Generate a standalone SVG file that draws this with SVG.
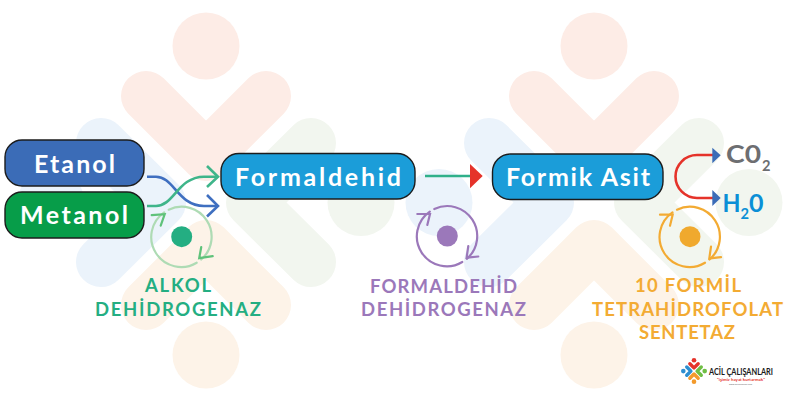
<svg xmlns="http://www.w3.org/2000/svg" width="800" height="400" viewBox="0 0 800 400">
<style>
text{font-family:"Lato","Liberation Sans",sans-serif;font-weight:700}
.box{stroke:#1c1c1c;stroke-width:1.4}
.nt{fill:#fff;font-size:25px}
.lb{font-size:18.500px}
.cy{fill:none;stroke-width:2.2;stroke-linecap:round;stroke-linejoin:miter}
.cn{fill:none;stroke-width:2.6;stroke-linejoin:miter}
.wt{fill:#fdece6;stroke:#fdece6}.wb{fill:#ebf3fb;stroke:#ebf3fb}.wg{fill:#f2f6ef;stroke:#f2f6ef}.wo{fill:#fdf3e8;stroke:#fdf3e8}
.lt{fill:#e5332a;stroke:#e5332a}.lbl{fill:#2f8fd0;stroke:#2f8fd0}.lg{fill:#6fbe44;stroke:#6fbe44}.lo{fill:#f39a2b;stroke:#f39a2b}
</style>
<defs>
<g id="pt"><circle cy="-155" r="33.500" stroke="none"/><path d="M-60-105 0-45 60-105" fill="none" stroke-width="50" stroke-linecap="round" stroke-linejoin="round"/></g>
<g id="pb"><circle cy="154" r="33.500" stroke="none"/><path d="M-60 104 0 44 60 104" fill="none" stroke-width="50" stroke-linecap="round" stroke-linejoin="round"/></g>
<g id="pl"><circle cx="-155" cy="1.500" r="33.500" stroke="none"/><path d="M-105-58-45 1.500-105 61" fill="none" stroke-width="50" stroke-linecap="round" stroke-linejoin="round"/></g>
<g id="pr"><circle cx="155" cy="1.500" r="33.500" stroke="none"/><path d="M105-58 45 1.500 105 61" fill="none" stroke-width="50" stroke-linecap="round" stroke-linejoin="round"/></g>
<g id="ring" fill="none"><path d="M-13-27A30 30 0 0 1 19.500 22.800"/><path d="M15 26A30 30 0 0 1-17.500-24.400"/></g>
</defs>

<g id="watermark-left" transform="translate(206 201)">
<use href="#pt" class="wt"/><use href="#pl" class="wb"/><use href="#pr" class="wg"/><use href="#pb" class="wo"/>
</g>
<g id="watermark-right" transform="translate(594 201)">
<use href="#pt" class="wt"/><use href="#pl" class="wb"/><use href="#pr" class="wg"/><use href="#pb" class="wo"/>
</g>

<g id="connectors">
<path class="cn" stroke="#3f6fc0" d="M147 176.700H156C174 176.700 178 206 204 206H217"/>
<path class="cn" stroke="#3f6fc0" d="M207 195 218 206 207 216.500"/>
<path class="cn" stroke="#3fb58a" d="M147 206H156C174 206 178 176.700 204 176.700H217"/>
<path class="cn" stroke="#3fb58a" d="M207 166 218 176.700 207 187"/>
<path class="cn" stroke="#2fb08a" d="M425 176H471"/>
<polygon fill="#e5332a" points="470,164 482.700,176 470,188.300"/>
<path class="cn" stroke="#e5332a" d="M713 155H697a21.500 21.500 0 0 0 0 43H713"/>
<polygon fill="#3b6cb7" points="712.300,147.700 720.700,155.300 712.300,163.300"/>
<polygon fill="#3b6cb7" points="712.300,190 720.700,198 712.300,206"/>
</g>

<g id="etanol">
<rect class="box" x="5" y="140" width="139" height="46" rx="17" fill="#3b6cb7"/>
<text class="nt" x="34" y="173" textLength="81" lengthAdjust="spacing">Etanol</text>
</g>
<g id="metanol">
<rect class="box" x="5" y="192" width="139" height="46" rx="17" fill="#079d49"/>
<text class="nt" x="20" y="224" textLength="108" lengthAdjust="spacing">Metanol</text>
</g>
<g id="formaldehid">
<rect class="box" x="221" y="153.500" width="194" height="45.500" rx="18" fill="#1b9dd9"/>
<text class="nt" x="235" y="186" textLength="166" lengthAdjust="spacing">Formaldehid</text>
</g>
<g id="formik-asit">
<rect class="box" x="492.500" y="154" width="170.500" height="45.500" rx="18" fill="#1b9dd9"/>
<text class="nt" x="506" y="186" textLength="144" lengthAdjust="spacing">Formik Asit</text>
</g>

<g id="co2" fill="#6d6e71">
<text x="726" y="163" font-size="25" textLength="35" lengthAdjust="spacingAndGlyphs">C0</text>
<text x="762" y="171" font-size="15" textLength="8.500" lengthAdjust="spacingAndGlyphs">2</text>
</g>
<g id="h2o" fill="#0b8fd6">
<text x="722.500" y="212" font-size="25" textLength="18" lengthAdjust="spacingAndGlyphs">H</text>
<text x="740.500" y="219" font-size="15" textLength="8.500" lengthAdjust="spacingAndGlyphs">2</text>
<text x="749" y="212" font-size="25" textLength="14.500" lengthAdjust="spacingAndGlyphs">0</text>
</g>

<g id="alkol-dehidrogenaz">
<g transform="translate(181.700 236.700)">
<use href="#ring" class="cy" stroke="#aedbb4"/>
<path class="cy" stroke="#5fc27a" d="M-30-21.500-17-22.500-21-11"/>
<path class="cy" stroke="#5fc27a" d="M31 19.500 17.500 21.500 19.500 10.500"/>
<circle r="10.500" fill="#24ae82"/>
</g>
<text class="lb" x="145" y="292" fill="#24ae82" textLength="66" lengthAdjust="spacing">ALKOL</text>
<text class="lb" x="95" y="316" fill="#24ae82" textLength="166" lengthAdjust="spacing">DEHİDROGENAZ</text>
</g>
<g id="formaldehid-dehidrogenaz">
<g transform="translate(447.300 236)">
<use href="#ring" class="cy" stroke="#9b78ba"/>
<path class="cy" stroke="#9b78ba" d="M-30-22-17.300-22-20-11"/>
<path class="cy" stroke="#9b78ba" d="M31 20.500 19.300 21.700 21 10"/>
<circle r="10.500" fill="#9b78ba"/>
</g>
<text class="lb" x="370" y="293" fill="#9b78ba" textLength="147" lengthAdjust="spacing">FORMALDEHİD</text>
<text class="lb" x="361" y="316" fill="#9b78ba" textLength="165" lengthAdjust="spacing">DEHİDROGENAZ</text>
</g>
<g id="formil-tetrahidrofolat-sentetaz">
<g transform="translate(690 236.700)">
<use href="#ring" class="cy" stroke="#f3ab33"/>
<path class="cy" stroke="#f3ab33" d="M-30-22-17.300-22-20-11"/>
<path class="cy" stroke="#f3ab33" d="M31 20.500 19.300 21.700 21 10"/>
<circle r="10.500" fill="#f0a92e"/>
</g>
<text class="lb" x="635" y="292" fill="#f3ab33" textLength="106" lengthAdjust="spacing">10 FORMİL</text>
<text class="lb" x="592" y="316" fill="#f3ab33" textLength="191" lengthAdjust="spacing">TETRAHİDROFOLAT</text>
<text class="lb" x="639" y="339" fill="#f3ab33" textLength="96" lengthAdjust="spacing">SENTETAZ</text>
</g>

<g id="logo">
<g transform="translate(694 371) scale(.069)">
<use href="#pt" class="lt"/><use href="#pl" class="lbl"/><use href="#pr" class="lg"/><use href="#pb" class="lo"/>
</g>
<text x="709" y="375" font-size="9.500" fill="#1a1a1a" textLength="64" lengthAdjust="spacingAndGlyphs">ACİL ÇALIŞANLARI</text>
<text x="717" y="380.500" font-size="4" fill="#e5332a" textLength="48" lengthAdjust="spacingAndGlyphs">"işimiz hayat kurtarmak"</text>
<text x="729" y="384.500" font-size="2.500" fill="#888" textLength="23" lengthAdjust="spacingAndGlyphs">www.acilcalisanlari.com</text>
</g>
</svg>
